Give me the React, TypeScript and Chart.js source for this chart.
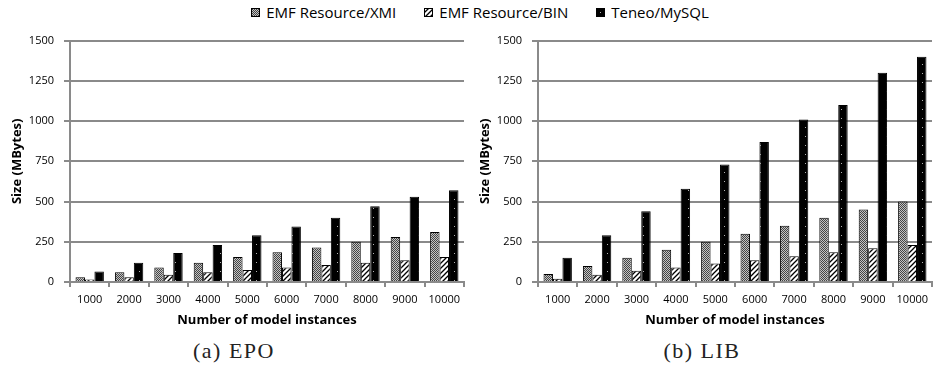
import React, { useEffect, useRef } from "react";
import { Chart, registerables } from "chart.js";

Chart.register(...registerables);

const categories = ["1000", "2000", "3000", "4000", "5000", "6000", "7000", "8000", "9000", "10000"];
const seriesNames = ["EMF Resource/XMI", "EMF Resource/BIN", "Teneo/MySQL"];

const epoXmi = [30, 60, 90, 120, 155, 185, 215, 250, 280, 310];
const epoBin = [15, 30, 45, 60, 75, 90, 105, 120, 135, 155];
const epoMysql = [65, 120, 180, 230, 290, 345, 400, 470, 530, 570];

const libXmi = [50, 100, 150, 200, 250, 300, 350, 400, 450, 500];
const libBin = [20, 45, 70, 90, 115, 135, 160, 185, 210, 230];
const libMysql = [150, 290, 440, 580, 730, 870, 1010, 1100, 1300, 1400];

const yTicks = [0, 250, 500, 750, 1000, 1250, 1500];
const captions = ["(a) EPO", "(b) LIB"];
const xTitle = "Number of model instances";
const yTitle = "Size (MBytes)";

const GRID = "#8a8a8a";
const FONT = "'Open Sans', 'DejaVu Sans', sans-serif";

type Kind = "xmi" | "bin" | "mysql";

function makePattern(kind: Kind): CanvasPattern | string {
  const c = document.createElement("canvas");
  const ctx = c.getContext("2d");
  if (!ctx) return "#888";
  if (kind === "xmi") {
    c.width = 2;
    c.height = 2;
    ctx.fillStyle = "#c4c4c4";
    ctx.fillRect(0, 0, 2, 2);
    ctx.fillStyle = "#444444";
    ctx.fillRect(0, 0, 1, 1);
    ctx.fillRect(1, 1, 1, 1);
  } else if (kind === "bin") {
    c.width = 5;
    c.height = 5;
    ctx.fillStyle = "#ffffff";
    ctx.fillRect(0, 0, 5, 5);
    ctx.strokeStyle = "#000";
    ctx.lineWidth = 1.3;
    ctx.beginPath();
    ctx.moveTo(-1, 6);
    ctx.lineTo(6, -1);
    ctx.moveTo(-3.5, 3.5);
    ctx.lineTo(3.5, -3.5);
    ctx.moveTo(1.5, 8.5);
    ctx.lineTo(8.5, 1.5);
    ctx.stroke();
  } else {
    c.width = 9;
    c.height = 9;
    ctx.fillStyle = "#000";
    ctx.fillRect(0, 0, 9, 9);
    ctx.fillStyle = "#b5b5b5";
    ctx.fillRect(4, 4, 1, 1);
  }
  const p = ctx.createPattern(c, "repeat");
  return p || "#888";
}

function Swatch({ kind }: { kind: Kind }) {
  const ref = useRef<HTMLCanvasElement>(null);
  useEffect(() => {
    const cv = ref.current;
    if (!cv) return;
    const ctx = cv.getContext("2d");
    if (!ctx) return;
    ctx.fillStyle = makePattern(kind) as any;
    ctx.fillRect(0, 0, 9, 9);
    ctx.strokeStyle = "#000";
    ctx.lineWidth = 1;
    ctx.strokeRect(0.5, 0.5, 8, 8);
  }, [kind]);
  return <canvas ref={ref} width={9} height={9} style={{ display: "block", marginRight: 6 }} />;
}

function BarChart({ xmi, bin, mysql }: { xmi: number[]; bin: number[]; mysql: number[] }) {
  const ref = useRef<HTMLCanvasElement>(null);
  useEffect(() => {
    const cv = ref.current;
    if (!cv) return;
    const tickFont = { family: FONT, size: 11 };
    const titleFont = { family: FONT, size: 13, weight: "bold" as const };
    const chart = new Chart(cv, {
      type: "bar",
      data: {
        labels: categories,
        datasets: [
          { label: seriesNames[0], data: xmi, backgroundColor: makePattern("xmi") as any, borderColor: "#000", borderWidth: 1 },
          { label: seriesNames[1], data: bin, backgroundColor: makePattern("bin") as any, borderColor: "#000", borderWidth: 1 },
          { label: seriesNames[2], data: mysql, backgroundColor: makePattern("mysql") as any, borderColor: "#000", borderWidth: 1 },
        ],
      },
      options: {
        animation: false,
        responsive: false,
        layout: { padding: { top: 13, right: 4, left: 0, bottom: 0 } },
        plugins: { legend: { display: false }, tooltip: { enabled: false } },
        datasets: { bar: { categoryPercentage: 0.72, barPercentage: 1 } },
        scales: {
          x: {
            grid: { display: true, drawOnChartArea: false, drawTicks: true, tickLength: 5, color: GRID, lineWidth: 2, offset: true },
            border: { display: true, color: GRID, width: 2 },
            ticks: { font: tickFont, color: "#000", padding: 6, maxRotation: 0, autoSkip: false },
            title: { display: true, text: xTitle, font: titleFont, color: "#000", padding: { top: 2, bottom: 2 } },
            afterFit: (s: any) => {
              s.height = 48;
            },
          },
          y: {
            min: 0,
            max: 1500,
            afterBuildTicks: (s: any) => {
              s.ticks = yTicks.map((v) => ({ value: v }));
            },
            grid: { color: GRID, lineWidth: 2, tickLength: 6, drawTicks: true },
            border: { display: true, color: GRID, width: 2 },
            ticks: { font: tickFont, color: "#000", padding: 10, callback: (v: any) => String(v) },
            title: { display: true, text: yTitle, font: titleFont, color: "#000", padding: { top: 9, bottom: 2 } },
            afterFit: (s: any) => {
              s.width = 70;
            },
          },
        },
      },
    });
    return () => chart.destroy();
  }, [xmi, bin, mysql]);
  return <canvas ref={ref} width={468} height={306} style={{ display: "block" }} />;
}

export default function App() {
  useEffect(() => {
    document.body.style.margin = "0";
  }, []);
  const kinds: Kind[] = ["xmi", "bin", "mysql"];
  return (
    <div style={{ position: "relative", width: 936, height: 371, background: "#fff", overflow: "hidden" }}>
      <div
        style={{
          position: "absolute",
          left: 12,
          top: 0,
          width: 936,
          height: 24,
          display: "flex",
          justifyContent: "center",
          alignItems: "center",
          fontFamily: FONT,
          fontSize: 15,
          color: "#000",
        }}
      >
        {seriesNames.map((n, i) => (
          <div key={n} style={{ display: "flex", alignItems: "center", marginLeft: i === 0 ? 0 : 28 }}>
            <Swatch kind={kinds[i]} />
            <span>{n}</span>
          </div>
        ))}
      </div>
      <div style={{ position: "absolute", left: 0, top: 24 }}>
        <BarChart xmi={epoXmi} bin={epoBin} mysql={epoMysql} />
      </div>
      <div style={{ position: "absolute", left: 468, top: 24 }}>
        <BarChart xmi={libXmi} bin={libBin} mysql={libMysql} />
      </div>
      {captions.map((c, i) => (
        <div
          key={c}
          style={{
            position: "absolute",
            left: i * 468,
            top: 338,
            width: 468,
            textAlign: "center",
            fontFamily: "'Liberation Serif', 'DejaVu Serif', serif",
            fontSize: 22,
            letterSpacing: 1.5,
            lineHeight: "26px",
            color: "#222",
          }}
        >
          {c}
        </div>
      ))}
    </div>
  );
}
